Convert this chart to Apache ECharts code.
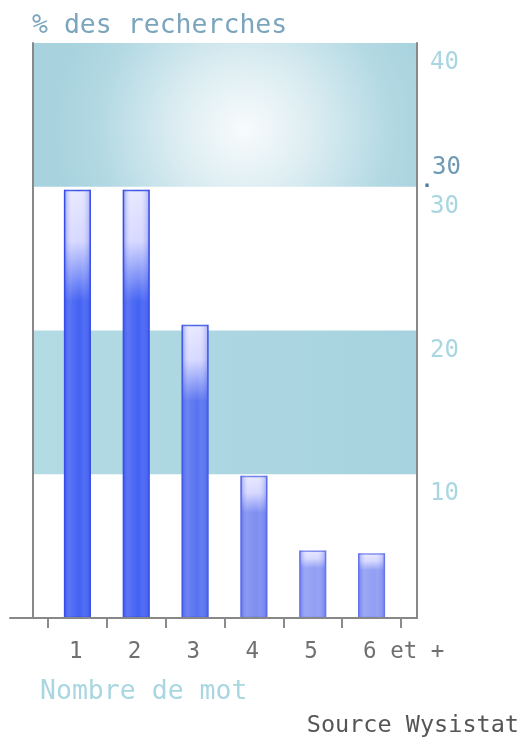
<!DOCTYPE html>
<html>
<head>
<meta charset="utf-8">
<script src="https://cdn.jsdelivr.net/npm/echarts@6/dist/echarts.min.js"></script>
<style>
html,body{margin:0;padding:0;background:#fff;}
#c{width:525px;height:738px;}
</style>
</head>
<body>
<div id="c"></div>
<script>
// ---- data ----
const categories = ['1', '2', '3', '4', '5', '6 et +'];
const values = [29.8, 29.8, 20.4, 9.9, 4.7, 4.5];
const yTicks = [10, 20, 30, 40];
const bands = [[30, 40], [10, 20]];
const titleText = '% des recherches';
const xTitle = 'Nombre de mot';
const sourceText = 'Source Wysistat';

const MONO = '"DejaVu Sans Mono", "Liberation Mono", monospace';
const baseColors = ['#4362f3', '#4362f3', '#5873f0', '#7e8ef1', '#919ef3', '#919ef3'];
const borderColors = ['#3550e6', '#3550e6', '#4660e6', '#6c7ceb', '#7f8cee', '#7f8cee'];

function vGrad(c) {
  return new echarts.graphic.LinearGradient(0, 0, 0, 1, [
    {offset: 0, color: '#e8e8ff'},
    {offset: 0.12, color: '#d6d8ff'},
    {offset: 0.26, color: c},
    {offset: 1, color: c}
  ]);
}

const barData = values.map((v, i) => ({
  value: v,
  itemStyle: {color: vGrad(baseColors[i]), borderColor: borderColors[i], borderWidth: 1.5}
}));

const chart = echarts.init(document.getElementById('c'), null, {renderer: 'canvas'});

const hidden = {show: false};
const option = {
  backgroundColor: '#ffffff',
  animation: false,
  title: [
    {text: titleText, left: 27, top: 8, textStyle: {fontFamily: MONO, fontSize: 26.5, fontWeight: 'normal', color: '#7ba5bd'}},
    {text: xTitle, left: 35, top: 674, textStyle: {fontFamily: MONO, fontSize: 26.5, fontWeight: 'normal', color: '#a8d6e1'}},
    {text: sourceText, right: 1, top: 709, textStyle: {fontFamily: MONO, fontSize: 23.5, fontWeight: 'normal', color: '#555555'}},
    {text: '30', left: 427, top: 151, textStyle: {fontFamily: MONO, fontSize: 24, fontWeight: 'normal', color: '#6f9ab4'}},
    {text: '.', left: 416, top: 167, textStyle: {fontFamily: MONO, fontSize: 20, fontWeight: 'bold', color: '#4f7fa0'}}
  ],
  grid: [
    {left: 48, right: 124, top: 43, bottom: 120},   // bars
    {left: 33, right: 108, top: 43, bottom: 120},   // frame + bands + y labels
    {left: 10, right: 108, top: 43, bottom: 120},   // extended bottom axis line
    {left: 39.5, right: 132.5, top: 43, bottom: 120} // category labels
  ],
  xAxis: [
    {gridIndex: 0, type: 'category', data: categories, offset: 4,
      axisLine: hidden, axisLabel: hidden, splitLine: hidden,
      axisTick: {show: true, length: 10, lineStyle: {color: '#666', width: 1.5}}},
    {gridIndex: 1, type: 'value', min: 0, max: 1, position: 'top', z: 10,
      axisLine: {show: true, lineStyle: {color: '#888', width: 2}},
      axisLabel: hidden, axisTick: hidden, splitLine: hidden},
    {gridIndex: 2, type: 'value', min: 0, max: 1, position: 'bottom', z: 10,
      axisLine: {show: true, lineStyle: {color: '#888', width: 2}},
      axisLabel: hidden, axisTick: hidden, splitLine: hidden},
    {gridIndex: 3, type: 'category', data: categories, position: 'bottom',
      axisLine: hidden, axisTick: hidden, splitLine: hidden,
      axisLabel: {show: true, align: 'left', margin: 23, interval: 0,
        fontFamily: MONO, fontSize: 22.5, color: '#707070'}}
  ],
  yAxis: [
    {gridIndex: 0, type: 'value', min: 0, max: 40, show: false},
    {gridIndex: 1, type: 'value', min: 0, max: 40, position: 'left', z: 10,
      axisLine: {show: true, lineStyle: {color: '#888', width: 2}},
      axisLabel: hidden, axisTick: hidden, splitLine: hidden},
    {gridIndex: 1, type: 'value', min: 0, max: 40, interval: 10, position: 'right', z: 10,
      axisLine: {show: true, lineStyle: {color: '#888', width: 2}},
      axisTick: hidden, splitLine: hidden,
      axisLabel: {show: true, margin: 13, verticalAlign: 'top', padding: [8, 0, 0, 0],
        fontFamily: MONO, fontSize: 24, color: '#a8d6e1',
        formatter: v => (yTicks.indexOf(v) >= 0 ? String(v) : '')}},
    {gridIndex: 2, type: 'value', min: 0, max: 40, show: false},
    {gridIndex: 3, type: 'value', min: 0, max: 40, show: false}
  ],
  series: [
    {type: 'line', xAxisIndex: 1, yAxisIndex: 1, data: [], silent: true, z: 1,
      markArea: {silent: true, data: [
        [{yAxis: bands[0][0], itemStyle: {color: {type: 'radial', x: 0.55, y: 0.6, r: 1.35,
          colorStops: [{offset: 0, color: '#f8fbfc'}, {offset: 0.35, color: '#dcedf2'}, {offset: 0.75, color: '#b3d9e3'}, {offset: 1, color: '#a7d2de'}]}}},
         {yAxis: bands[0][1]}],
        [{yAxis: bands[1][0], itemStyle: {color: new echarts.graphic.LinearGradient(0, 0, 1, 0, [
          {offset: 0, color: '#b3dbe4'}, {offset: 0.5, color: '#acd6e1'}, {offset: 1, color: '#a6d3df'}])}},
         {yAxis: bands[1][1]}]
      ]}},
    {type: 'bar', xAxisIndex: 0, yAxisIndex: 0, data: barData, barWidth: 27, z: 5},
    {type: 'bar', xAxisIndex: 0, yAxisIndex: 0, data: values, barWidth: 27, barGap: '-100%', z: 6, silent: true,
      itemStyle: {color: new echarts.graphic.LinearGradient(0, 0, 1, 0, [
        {offset: 0, color: 'rgba(40,60,230,0.45)'},
        {offset: 0.3, color: 'rgba(255,255,255,0.08)'},
        {offset: 0.6, color: 'rgba(255,255,255,0)'},
        {offset: 1, color: 'rgba(40,60,230,0.35)'}])}}
  ]
};
chart.setOption(option);
</script>
</body>
</html>
